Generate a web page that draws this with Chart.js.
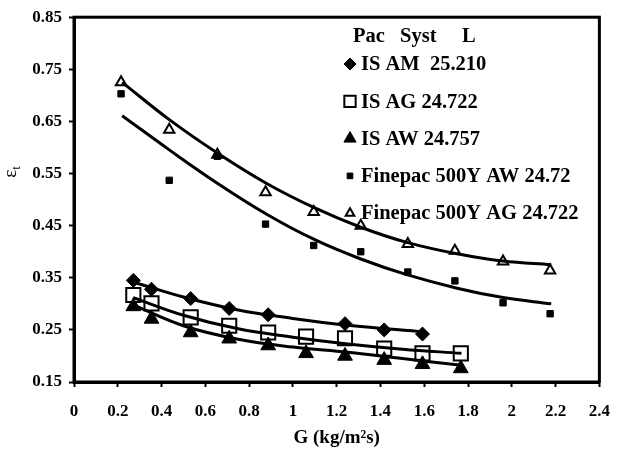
<!DOCTYPE html>
<html>
<head>
<meta charset="utf-8">
<script src="https://cdn.jsdelivr.net/npm/chart.js@4.4.0/dist/chart.umd.min.js"></script>
<style>
html, body { margin: 0; padding: 0; background: #fff; }
#wrap { width: 624px; height: 459px; }
</style>
</head>
<body>
<div id="wrap"><canvas id="chart" width="624" height="459"></canvas></div>
<script>
// Measured points (G in kg/m2s, holdup eps_t)
const gAM = [0.271, 0.354, 0.533, 0.709, 0.887, 1.238, 1.417, 1.592];
const epsAM = [0.345, 0.328, 0.310, 0.291, 0.279, 0.262, 0.250, 0.242];

const gIS = [0.271, 0.354, 0.533, 0.709, 0.887, 1.060, 1.238, 1.417, 1.592, 1.767];
const epsAG = [0.317, 0.301, 0.274, 0.258, 0.245, 0.237, 0.234, 0.214, 0.205, 0.205];
const epsAW = [0.295, 0.271, 0.245, 0.233, 0.220, 0.205, 0.200, 0.192, 0.184, 0.176];

const gFine = [0.215, 0.435, 0.655, 0.875, 1.095, 1.31, 1.525, 1.74, 1.96, 2.175];
const epsFineAW = [0.703, 0.537, 0.583, 0.453, 0.412, 0.400, 0.361, 0.344, 0.302, 0.281];
const epsFineAG = [0.725, 0.634, 0.586, 0.514, 0.476, 0.450, 0.415, 0.402, 0.381, 0.364];

// Trend lines
const trendAMx = [0.27, 0.5, 0.75, 1.0, 1.25, 1.6];
const trendAMy = [0.342, 0.313, 0.288, 0.272, 0.259, 0.246];
const trendISx = [0.27, 0.5, 0.75, 1.0, 1.25, 1.5, 1.77];
const trendAGy = [0.312, 0.278, 0.252, 0.236, 0.223, 0.213, 0.205];
const trendAWy = [0.298, 0.258, 0.232, 0.217, 0.207, 0.195, 0.182];
const trendFineX = [0.22, 0.44, 0.66, 0.88, 1.1, 1.31, 1.52, 1.75, 1.96, 2.18];
const trendFineAGy = [0.725, 0.652, 0.588, 0.531, 0.484, 0.447, 0.418, 0.396, 0.382, 0.375];
const trendFineAWy = [0.661, 0.594, 0.530, 0.472, 0.423, 0.386, 0.356, 0.330, 0.312, 0.300];

// Axis ticks
const xTicks = [0, 0.2, 0.4, 0.6, 0.8, 1, 1.2, 1.4, 1.6, 1.8, 2, 2.2, 2.4];
const yTicks = [0.15, 0.25, 0.35, 0.45, 0.55, 0.65, 0.75, 0.85];

const serif = '"Liberation Serif", "Times New Roman", serif';
const pts = (xs, ys) => xs.map((x, i) => ({ x: x, y: ys[i] }));

function trend(xs, ys) {
    return {
        type: 'line', data: pts(xs, ys), showLine: true,
        borderColor: '#000', borderWidth: 3, pointRadius: 0,
        tension: 0.4, fill: false, order: 2
    };
}

function marks(xs, ys, style, r, filled, bw) {
    return {
        type: 'scatter', data: pts(xs, ys), pointStyle: style, pointRadius: r,
        backgroundColor: filled ? '#000' : 'rgba(0,0,0,0)',
        borderColor: '#000', borderWidth: bw, order: 1
    };
}

// Legend entries drawn inside the plot (style, radius, filled, border, label)
const legendItems = [
    ['rectRot', 6, true, 1, 'IS AM  25.210'],
    ['rect', 8, false, 2, 'IS AG 24.722'],
    ['triangle', 7, true, 1, 'IS AW 24.757'],
    ['rect', 4, true, 1, 'Finepac 500Y AW 24.72'],
    ['triangle', 5, false, 2, 'Finepac 500Y AG 24.722']
];

const extras = {
    id: 'extras',
    afterDraw(chart) {
        const ctx = chart.ctx;
        const a = chart.chartArea;
        ctx.save();
        // box round the plot
        ctx.strokeStyle = '#000';
        ctx.lineWidth = 3;
        ctx.strokeRect(a.left, a.top, a.right - a.left, a.bottom - a.top);

        // legend
        ctx.fillStyle = '#000';
        ctx.font = 'bold 20.5px ' + serif;
        ctx.textBaseline = 'middle';
        ctx.textAlign = 'left';
        ctx.fillText('Pac', 353, 37);
        ctx.fillText('Syst', 400, 37);
        ctx.fillText('L', 462, 37);
        legendItems.forEach((it, i) => {
            const y = 64 + i * 37.3;
            ctx.save();
            ctx.fillStyle = it[2] ? '#000' : 'rgba(0,0,0,0)';
            ctx.strokeStyle = '#000';
            ctx.lineWidth = it[3];
            Chart.helpers.drawPoint(ctx, { pointStyle: it[0], radius: it[1], rotation: 0, borderWidth: it[3] }, 350, y);
            ctx.restore();
            ctx.fillText(it[4], 361, y + 1);
        });

        // y axis title: epsilon with subscript t
        ctx.translate(16, 172);
        ctx.rotate(-Math.PI / 2);
        ctx.textAlign = 'left';
        ctx.textBaseline = 'alphabetic';
        ctx.font = '19px ' + serif;
        const w = ctx.measureText('ε').width;
        ctx.font = '13px ' + serif;
        const wt = ctx.measureText('t').width;
        const start = -(w + wt) / 2;
        ctx.font = '19px ' + serif;
        ctx.fillText('ε', start, 0);
        ctx.font = '13px ' + serif;
        ctx.fillText('t', start + w, 4);
        ctx.restore();
    }
};

const tickFont = { family: serif, size: 17, weight: 'bold' };

new Chart(document.getElementById('chart'), {
    type: 'scatter',
    data: {
        datasets: [
            trend(trendAMx, trendAMy),
            trend(trendISx, trendAGy),
            trend(trendISx, trendAWy),
            trend(trendFineX, trendFineAWy),
            trend(trendFineX, trendFineAGy),
            marks(gAM, epsAM, 'rectRot', 7, true, 1),
            marks(gIS, epsAG, 'rect', 10, false, 2),
            marks(gIS, epsAW, 'triangle', 8.5, true, 1),
            marks(gFine, epsFineAW, 'rect', 4.5, true, 1),
            marks(gFine, epsFineAG, 'triangle', 6, false, 2)
        ]
    },
    options: {
        responsive: false,
        animation: false,
        layout: { padding: { left: 0, top: 14, right: 14, bottom: 0 } },
        plugins: { legend: { display: false }, tooltip: { enabled: false } },
        scales: {
            x: {
                type: 'linear', min: 0, max: 2.4,
                afterFit(s) { s.height = 77; },
                afterBuildTicks(s) { s.ticks = xTicks.map(v => ({ value: v })); },
                ticks: {
                    color: '#000', font: tickFont, padding: 14, maxRotation: 0, autoSkip: false,
                    callback: v => String(Math.round(v * 10) / 10)
                },
                grid: { drawOnChartArea: false, drawTicks: true, tickLength: 5, tickWidth: 2, tickColor: '#000' },
                border: { color: '#000', width: 3 },
                title: {
                    display: true, text: 'G (kg/m²s)', color: '#000',
                    font: { family: serif, size: 19, weight: 'bold' },
                    padding: { top: 0, bottom: 10 }
                }
            },
            y: {
                type: 'linear', min: 0.15, max: 0.85,
                afterFit(s) { s.width = 74; },
                afterBuildTicks(s) { s.ticks = yTicks.map(v => ({ value: v })); },
                ticks: {
                    color: '#000', font: tickFont, padding: 7, autoSkip: false,
                    callback: v => v.toFixed(2)
                },
                grid: { drawOnChartArea: false, drawTicks: true, tickLength: 5, tickWidth: 2, tickColor: '#000' },
                border: { color: '#000', width: 3 }
            }
        }
    },
    plugins: [extras]
});
</script>
</body>
</html>
